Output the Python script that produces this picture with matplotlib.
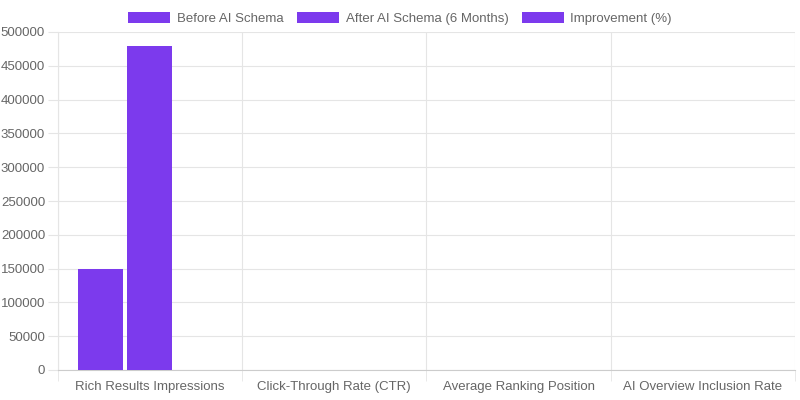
import matplotlib
matplotlib.use("Agg")
import matplotlib.pyplot as plt
import numpy as np
from matplotlib.patches import Patch

categories = ["Rich Results Impressions", "Click-Through Rate (CTR)", "Average Ranking Position", "AI Overview Inclusion Rate"]
series_names = ["Before AI Schema", "After AI Schema (6 Months)", "Improvement (%)"]
before = [150000, 2.1, 8.4, 12]
after = [480000, 4.8, 3.2, 38]
improvement = [220, 128, 62, 217]
yticks = list(range(0, 500001, 50000))

plt.rcParams['font.family'] = ['Liberation Sans', 'DejaVu Sans']
color = "#7c3aed"
fig = plt.figure(figsize=(8, 4), dpi=100)
ax = fig.add_axes([0.072, 0.075, 0.922, 0.845])
x = np.arange(len(categories))
w = 0.8 / 3
for i, vals in enumerate([before, after, improvement]):
    ax.bar(x + (i - 1) * w, vals, width=w * 0.92, color=color, zorder=3)
ax.set_xlim(-0.5, len(categories) - 0.5)
ax.set_ylim(0, 500000)
ax.set_yticks(yticks)
ax.set_yticklabels([str(v) for v in yticks], fontsize=9.5, color="#666666")
ax.set_xticks(x)
ax.set_xticklabels(categories, fontsize=9.5, color="#666666")
ax.set_xticks(np.arange(len(categories) + 1) - 0.5, minor=True)
ax.grid(True, axis='y', color="#e5e5e5", linewidth=0.8, zorder=0)
ax.grid(True, axis='x', which='minor', color="#e5e5e5", linewidth=0.8, zorder=0)
ax.tick_params(axis='x', which='major', length=0, pad=8)
ax.tick_params(axis='x', which='minor', length=8, color="#e5e5e5")
ax.tick_params(axis='y', length=7, pad=2, color="#e5e5e5")
for s in ['top', 'right']:
    ax.spines[s].set_visible(False)
ax.spines['left'].set_color("#e5e5e5")
ax.spines['bottom'].set_color("#cccccc")
handles = [Patch(facecolor=color, label=n) for n in series_names]
fig.legend(handles=handles, loc='upper center', bbox_to_anchor=(0.5, 1.0), ncol=3, frameon=False,
           fontsize=9.5, handlelength=3.2, handleheight=0.9, columnspacing=1.0, handletextpad=0.5,
           labelcolor="#666666")
fig.savefig("out.png", dpi=100)
